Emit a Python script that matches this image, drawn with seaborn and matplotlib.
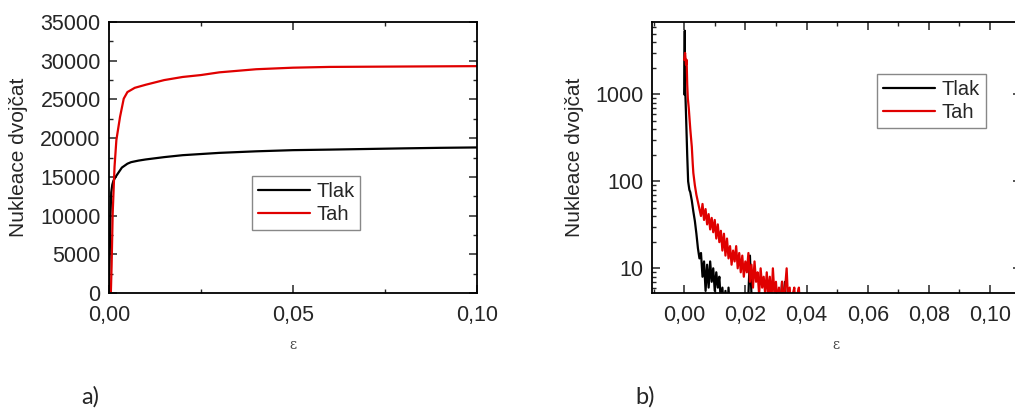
"""
Twin nucleation vs. strain: cumulative count (a) and per-step count on log scale (b).
"""
import matplotlib
matplotlib.use("Agg")
import matplotlib.pyplot as plt
import matplotlib.ticker as mticker
import numpy as np
import pandas as pd
import seaborn as sns

# --- a) cumulative twin nucleation -------------------------------------------
eps_tlak_a = [0.0, 0.0002, 0.0004, 0.0006, 0.0009, 0.0012, 0.0018, 0.0025, 0.0035,
              0.005, 0.006, 0.008, 0.010, 0.015, 0.020, 0.025, 0.030, 0.040,
              0.050, 0.060, 0.070, 0.080, 0.090, 0.100]
nuk_tlak_a = [0, 5000, 10000, 13000, 14000, 14500, 15000, 15500, 16200,
              16700, 16900, 17100, 17250, 17550, 17800, 17950, 18100, 18300,
              18450, 18520, 18600, 18680, 18750, 18800]

eps_tah_a = [0.0005, 0.0007, 0.001, 0.0015, 0.002, 0.003, 0.004, 0.005, 0.007,
             0.010, 0.015, 0.020, 0.025, 0.030, 0.040, 0.050, 0.060, 0.080, 0.100]
nuk_tah_a = [0, 3400, 10300, 16300, 19750, 22760, 25100, 25950, 26500,
             26900, 27500, 27900, 28150, 28500, 28900, 29100, 29200, 29250, 29300]

# --- b) nucleation per step (log scale) --------------------------------------
eps_tlak_b = [0.0000, 0.0002, 0.0003, 0.0006, 0.0010, 0.0013, 0.0017, 0.0020,
              0.0025, 0.0030, 0.0035, 0.0040, 0.0045, 0.0050,
              0.0055, 0.0060, 0.0065, 0.0070, 0.0075, 0.0080, 0.0085, 0.0090,
              0.0095, 0.0100, 0.0105, 0.0110, 0.0115, 0.0120, 0.0125, 0.0130,
              0.0135, 0.0140, 0.0145, 0.0150, 0.0155, 0.0160, 0.0165, 0.0170,
              0.0175, 0.0180, 0.0185, 0.0190, 0.0195, 0.0200, 0.0205, 0.0210,
              0.0215, 0.0220, 0.0225, 0.0230, 0.0250, 0.0280, 0.0300, 0.0310,
              0.0320, 0.0325, 0.0330, 0.0335, 0.0340]
nuk_tlak_b = [1000, 5400, 1300, 600, 200, 100, 80, 75,
              60, 45, 35, 25, 17, 13,
              15, 8, 12, 5.5, 11, 6, 12, 7,
              10, 5.5, 9, 6, 8, 4, 6, 3,
              5.5, 2, 6, 3, 2, 4, 2, 1,
              3, 1, 2, 1, 3, 1, 2, 5,
              14, 5, 2, 1, 1, 1, 1, 2,
              7, 3, 7, 1, 1]

eps_tah_b = [0.0000, 0.0003, 0.0006, 0.0008, 0.0010, 0.0012, 0.0015, 0.0018,
             0.0020, 0.0022, 0.0025, 0.0028, 0.0030, 0.0035, 0.0040, 0.0045,
             0.0050, 0.0055, 0.0060, 0.0065, 0.0070, 0.0075, 0.0080, 0.0085,
             0.0090, 0.0095, 0.0100, 0.0105, 0.0110, 0.0115, 0.0120, 0.0125,
             0.0130, 0.0135, 0.0140, 0.0145, 0.0150, 0.0155, 0.0160, 0.0165,
             0.0170, 0.0175, 0.0180, 0.0185, 0.0190, 0.0195, 0.0200, 0.0205,
             0.0210, 0.0215, 0.0220, 0.0225, 0.0230, 0.0235, 0.0240, 0.0245,
             0.0250, 0.0255, 0.0260, 0.0265, 0.0270, 0.0275, 0.0280, 0.0285,
             0.0290, 0.0295, 0.0300, 0.0305, 0.0310, 0.0315, 0.0320, 0.0325,
             0.0330, 0.0335, 0.0340, 0.0345, 0.0350, 0.0355, 0.0360, 0.0365,
             0.0370, 0.0375, 0.0380, 0.0385, 0.0390, 0.0395, 0.0400, 0.0405,
             0.0410, 0.0415, 0.0420, 0.0430, 0.0440, 0.0450, 0.0460, 0.0470]
nuk_tah_b = [2500, 3000, 2200, 2500, 1300, 900, 700, 500,
             400, 330, 250, 160, 125, 90, 70, 58,
             48, 40, 55, 36, 48, 32, 42, 28,
             38, 26, 36, 22, 32, 20, 27, 16,
             25, 14, 22, 13, 18, 11, 16, 12,
             18, 10, 15, 9, 14, 8, 12, 9,
             15, 7, 11, 6, 12, 7, 9, 5,
             10, 6, 8, 5, 9, 5, 8, 4,
             10, 5, 7, 4, 6, 3, 7, 4,
             6, 10, 4, 6, 3, 5, 6, 3,
             5, 6, 3, 2, 4, 2, 4, 2,
             5, 2, 4, 2, 5, 2, 4, 1]

LABELS = ["Tlak", "Tah"]
COLORS = {"Tlak": "black", "Tah": "#e00000"}

df_a = pd.concat([
    pd.DataFrame({"eps": eps_tlak_a, "n": nuk_tlak_a, "serie": "Tlak"}),
    pd.DataFrame({"eps": eps_tah_a, "n": nuk_tah_a, "serie": "Tah"}),
])
df_b = pd.concat([
    pd.DataFrame({"eps": eps_tlak_b, "n": nuk_tlak_b, "serie": "Tlak"}),
    pd.DataFrame({"eps": eps_tah_b, "n": nuk_tah_b, "serie": "Tah"}),
])

sns.set_style("ticks")
plt.rcParams["font.family"] = ["Liberation Sans", "DejaVu Sans"]
plt.rcParams.update({
    "xtick.direction": "in", "ytick.direction": "in",
    "xtick.major.size": 6, "ytick.major.size": 6,
    "xtick.minor.size": 3, "ytick.minor.size": 3,
    "xtick.major.width": 1.1, "ytick.major.width": 1.1,
    "xtick.minor.width": 1.0, "ytick.minor.width": 1.0,
    "xtick.top": True, "ytick.right": True,
    "axes.linewidth": 1.3,
})

comma = mticker.FuncFormatter(lambda v, _: f"{v:.2f}".replace(".", ","))

fig = plt.figure(figsize=(10.15, 4.12), dpi=100)
ax1 = fig.add_axes([0.1074, 0.2888, 0.3626, 0.6578])
ax2 = fig.add_axes([0.6424, 0.2888, 0.3632, 0.6578])

for ax, df in ((ax1, df_a), (ax2, df_b)):
    sns.lineplot(data=df, x="eps", y="n", hue="serie", hue_order=LABELS,
                 palette=COLORS, sort=False, estimator=None, lw=1.6, ax=ax)
    ax.set_ylabel("Nukleace dvojčat", fontsize=15)
    ax.set_xlabel("ε", fontsize=10, color="#444", labelpad=9,
                  family=["DejaVu Serif"])
    ax.xaxis.set_major_formatter(comma)
    ax.tick_params(labelsize=15.5)
    ax.tick_params(axis="x", pad=8.5)
    ax.tick_params(axis="y", pad=6)
    for s in ax.spines.values():
        s.set_color("black")

# a)
ax1.set_xlim(0, 0.10)
ax1.set_ylim(0, 35000)
ax1.xaxis.set_major_locator(mticker.MultipleLocator(0.05))
ax1.xaxis.set_minor_locator(mticker.MultipleLocator(0.025))
ax1.yaxis.set_major_locator(mticker.MultipleLocator(5000))
ax1.yaxis.set_minor_locator(mticker.MultipleLocator(2500))
ax1.yaxis.labelpad = 9
ax1.legend(handles=ax1.get_legend_handles_labels()[0], labels=LABELS,
           loc="lower left", bbox_to_anchor=(0.36, 0.195), fontsize=14.5,
           frameon=True, fancybox=False, edgecolor="#888", framealpha=1,
           handlelength=2.6, borderpad=0.3, labelspacing=0.2, handletextpad=0.3)

# b)
ax2.set_yscale("log")
ax2.set_xlim(-0.0105, 0.11)
ax2.set_ylim(5.2, 6800)
ax2.xaxis.set_major_locator(mticker.MultipleLocator(0.02))
ax2.xaxis.set_minor_locator(mticker.MultipleLocator(0.01))
ax2.yaxis.set_major_locator(mticker.LogLocator(base=10, numticks=10))
ax2.yaxis.set_minor_locator(mticker.LogLocator(base=10, subs=np.arange(2, 10), numticks=10))
ax2.yaxis.set_major_formatter(mticker.FuncFormatter(lambda v, _: f"{v:g}"))
ax2.yaxis.set_minor_formatter(mticker.NullFormatter())
ax2.yaxis.labelpad = 8
ax2.legend(handles=ax2.get_legend_handles_labels()[0], labels=LABELS,
           loc="lower left", bbox_to_anchor=(0.583, 0.57), fontsize=14.5,
           frameon=True, fancybox=False, edgecolor="#888", framealpha=1,
           handlelength=2.6, borderpad=0.3, labelspacing=0.2, handletextpad=0.3)

fig.text(90 / 1015, 1 - 397 / 412, "a)", fontsize=17, family=["Lato", "DejaVu Sans"],
         ha="center", va="center")
fig.text(645 / 1015, 1 - 397 / 412, "b)", fontsize=17, family=["Lato", "DejaVu Sans"],
         ha="center", va="center")

fig.savefig("out.png", dpi=100, facecolor="white")
plt.close(fig)
